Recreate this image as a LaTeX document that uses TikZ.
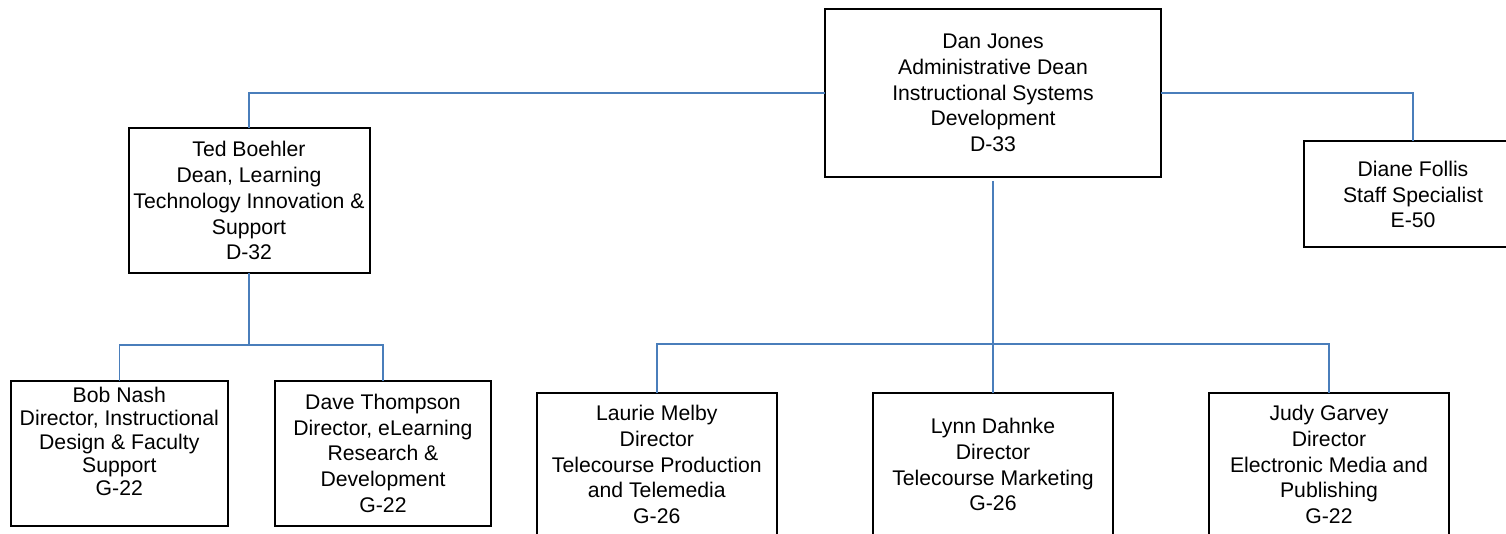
\documentclass[tikz,border=0pt]{standalone}
\usepackage{fontspec}
\setmainfont{Liberation Sans}
\definecolor{connblue}{RGB}{74,126,187}
\tikzset{
  box/.style={draw=black, line width=1pt, rectangle, inner sep=0pt, outer sep=0pt, align=center,
    font=\fontsize{10.6}{12.85}\selectfont},
  tightbox/.style={box, font=\fontsize{10.6}{11.65}\selectfont},
  conn/.style={draw=connblue, line width=0.8pt},
}
\begin{document}
\begin{tikzpicture}[x=0.5pt, y=-0.5pt]
\useasboundingbox (0,0) rectangle (1506,534);
\clip (0,0) rectangle (1506,534);
\fill[white] (0,0) rectangle (1506,534);

\node[box, minimum width=168pt, minimum height=84pt] (dan) at (993,93)
  {Dan Jones\\Administrative Dean\\Instructional Systems\\Development\\D-33};
\node[box, minimum width=120.5pt, minimum height=72.25pt] (ted) at (249,200.75)
  {Ted Boehler\\Dean, Learning\\Technology Innovation \&\\Support\\D-32};
\node[box, minimum width=109pt, minimum height=53pt] (diane) at (1413,194.5)
  {Diane Follis\\Staff Specialist\\E-50};

\node[box, minimum width=108.35pt, minimum height=72.5pt] (bob) at (119.3,453.2) {};
\node[tightbox, draw=none] (bobtext) at (119.3,441.5)
  {Bob Nash\\Director, Instructional\\Design \& Faculty\\Support\\G-22};
\node[box, minimum width=108pt, minimum height=72.5pt] (dave) at (383,453.2)
  {Dave Thompson\\Director, eLearning\\Research \&\\Development\\G-22};

\node[box, minimum width=120pt, minimum height=72pt] (laurie) at (656.8,464.7)
  {Laurie Melby\\Director\\Telecourse Production\\and Telemedia\\G-26};
\node[box, minimum width=120pt, minimum height=72pt] (lynn) at (993,464.7)
  {Lynn Dahnke\\Director\\Telecourse Marketing\\G-26};
\node[box, minimum width=120pt, minimum height=72pt] (judy) at (1329,464.7)
  {Judy Garvey\\Director\\Electronic Media and\\Publishing\\G-22};

\coordinate (tbar) at (249,345);
\coordinate (dbar) at (993,344.3);

\draw[conn] (dan.west) -| (ted.north);
\draw[conn] (dan.east) -| (diane.north);
\draw[conn, shorten <=2pt] (dan.south) -- (lynn.north);
\draw[conn] (laurie.north) |- (dbar) -| (judy.north);
\draw[conn] (ted.south) -- (tbar);
\draw[conn] (bob.north) |- (tbar) -| (dave.north);
\end{tikzpicture}
\end{document}
